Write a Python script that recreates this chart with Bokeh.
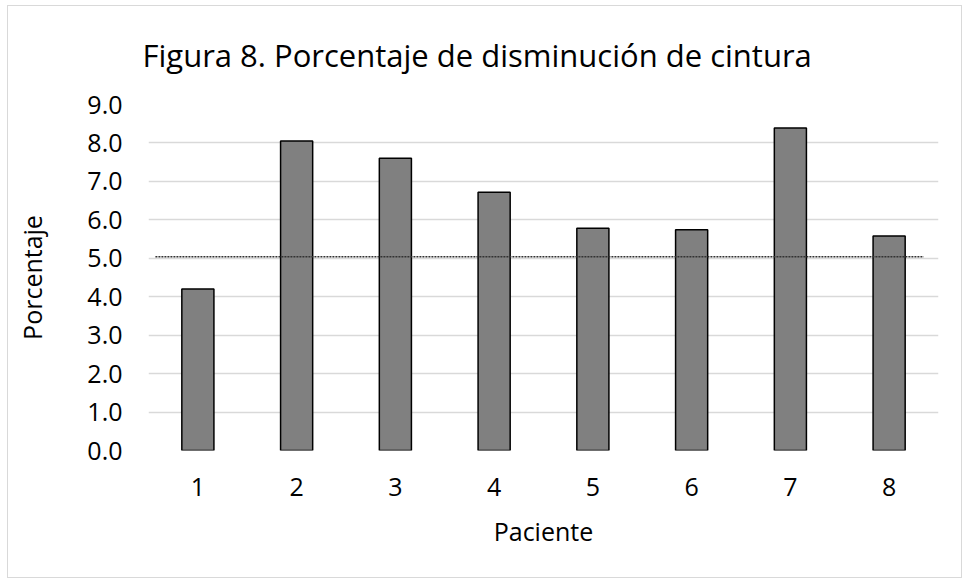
from bokeh.plotting import figure
from bokeh.models import ColumnDataSource, FactorRange, Range1d, FixedTicker, PrintfTickFormatter
from bokeh.embed import file_html
from bokeh.resources import INLINE

pacientes = ["1", "2", "3", "4", "5", "6", "7", "8"]
porcentaje = [4.2, 8.05, 7.6, 6.72, 5.78, 5.74, 8.39, 5.58]
umbral = 5.04
y_ticks = [0, 1, 2, 3, 4, 5, 6, 7, 8, 9]
titulo = "Figura 8. Porcentaje de disminución de cintura"

FONT = "Open Sans"

p = figure(
    x_range=FactorRange(*pacientes, range_padding=0),
    y_range=Range1d(0, 9),
    width=955, height=573,
    output_backend="svg", toolbar_location=None,
    min_border_left=140, min_border_right=25, min_border_top=98, min_border_bottom=129,
)
p.styles = {"border": "1px solid #d9d9d9", "margin-left": "7px", "margin-top": "5px"}

src = ColumnDataSource(dict(x=pacientes, y=porcentaje))
p.vbar(x="x", top="y", width=0.325, source=src, fill_color="#808080",
       line_color="#000000", line_width=1.5)

p.segment(x0=[0.07], y0=[umbral], x1=[7.85], y1=[umbral],
          line_color="#333333", line_width=1.5, line_dash="2 1")

p.title.text = titulo
p.title.text_font = FONT
p.title.text_font_size = "31px"
p.title.text_font_style = "normal"
p.title.text_color = "#000000"
p.title.align = "left"
p.title.vertical_align = "top"
p.title.offset = -6
p.title.standoff = 54

p.outline_line_color = None
p.xgrid.grid_line_color = None
p.ygrid.grid_line_color = "#d9d9d9"
p.ygrid.grid_line_width = 1.5
p.yaxis.ticker = FixedTicker(ticks=y_ticks)
p.yaxis.formatter = PrintfTickFormatter(format="%.1f")

for ax in (p.xaxis[0], p.yaxis[0]):
    ax.axis_line_color = None
    ax.major_tick_line_color = None
    ax.minor_tick_line_color = None
    ax.major_tick_out = 0
    ax.major_tick_in = 0
    ax.minor_tick_out = 0
    ax.major_label_text_font = FONT
    ax.major_label_text_font_size = "25px"
    ax.major_label_text_color = "#000000"
    ax.axis_label_text_font = FONT
    ax.axis_label_text_font_size = "25px"
    ax.axis_label_text_font_style = "normal"
    ax.axis_label_text_color = "#000000"

p.xaxis.axis_label = "Paciente"
p.yaxis.axis_label = "Porcentaje"
p.xaxis.major_label_standoff = 27
p.yaxis.major_label_standoff = 26
p.xaxis.axis_label_standoff = 15
p.yaxis.axis_label_standoff = 35

open("out.html", "w").write(file_html(p, INLINE))
